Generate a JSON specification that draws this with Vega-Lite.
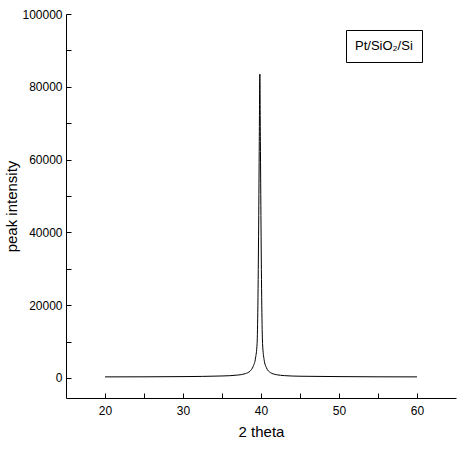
{
  "$schema": "https://vega.github.io/schema/vega-lite/v6.json",
  "width": 390,
  "height": 384,
  "autosize": "none",
  "padding": {"left": 66, "top": 14, "right": 6, "bottom": 60},
  "background": "white",
  "config": {
    "view": {"stroke": null},
    "font": "Liberation Sans",
    "axis": {
      "domainColor": "black",
      "tickColor": "black",
      "labelColor": "black",
      "titleColor": "black",
      "grid": false,
      "labelFont": "Liberation Sans",
      "titleFont": "Liberation Sans",
      "labelFontSize": 12,
      "titleFontSize": 15,
      "titleFontWeight": "normal"
    }
  },
  "data": {
    "values": [
      {"t": 20, "i": 300, "s": "Pt/SiO₂/Si"},
      {"t": 25, "i": 320, "s": "Pt/SiO₂/Si"},
      {"t": 30, "i": 380, "s": "Pt/SiO₂/Si"},
      {"t": 35, "i": 550, "s": "Pt/SiO₂/Si"},
      {"t": 37, "i": 800, "s": "Pt/SiO₂/Si"},
      {"t": 38, "i": 1200, "s": "Pt/SiO₂/Si"},
      {"t": 38.6, "i": 1900, "s": "Pt/SiO₂/Si"},
      {"t": 39.0, "i": 3200, "s": "Pt/SiO₂/Si"},
      {"t": 39.3, "i": 5500, "s": "Pt/SiO₂/Si"},
      {"t": 39.5, "i": 9500, "s": "Pt/SiO₂/Si"},
      {"t": 39.6, "i": 20000, "s": "Pt/SiO₂/Si"},
      {"t": 39.7, "i": 42000, "s": "Pt/SiO₂/Si"},
      {"t": 39.78, "i": 65000, "s": "Pt/SiO₂/Si"},
      {"t": 39.85, "i": 83500, "s": "Pt/SiO₂/Si"},
      {"t": 39.92, "i": 65000, "s": "Pt/SiO₂/Si"},
      {"t": 40.0, "i": 42000, "s": "Pt/SiO₂/Si"},
      {"t": 40.1, "i": 20000, "s": "Pt/SiO₂/Si"},
      {"t": 40.2, "i": 9500, "s": "Pt/SiO₂/Si"},
      {"t": 40.4, "i": 5000, "s": "Pt/SiO₂/Si"},
      {"t": 40.7, "i": 2800, "s": "Pt/SiO₂/Si"},
      {"t": 41.2, "i": 1500, "s": "Pt/SiO₂/Si"},
      {"t": 42, "i": 900, "s": "Pt/SiO₂/Si"},
      {"t": 43, "i": 650, "s": "Pt/SiO₂/Si"},
      {"t": 45, "i": 480, "s": "Pt/SiO₂/Si"},
      {"t": 50, "i": 380, "s": "Pt/SiO₂/Si"},
      {"t": 55, "i": 320, "s": "Pt/SiO₂/Si"},
      {"t": 60, "i": 300, "s": "Pt/SiO₂/Si"}
    ]
  },
  "mark": {"type": "line", "strokeWidth": 1, "interpolate": "monotone"},
  "encoding": {
    "x": {
      "field": "t",
      "type": "quantitative",
      "scale": {"domain": [15, 65], "nice": false},
      "axis": {
        "title": "2 theta",
        "values": [20, 25, 30, 35, 40, 45, 50, 55, 60],
        "labelExpr": "datum.value % 10 === 0 ? datum.label : ''",
        "tickSize": -5,
        "labelPadding": 12,
        "titlePadding": 8
      }
    },
    "y": {
      "field": "i",
      "type": "quantitative",
      "scale": {"domain": [-5500, 100000], "nice": false, "zero": false},
      "axis": {
        "title": "peak intensity",
        "values": [0, 10000, 20000, 30000, 40000, 50000, 60000, 70000, 80000, 90000, 100000],
        "labelExpr": "datum.value % 20000 === 0 ? format(datum.value, 'd') : ''",
        "tickSize": -5,
        "labelPadding": 9,
        "titlePadding": 2
      }
    },
    "color": {
      "field": "s",
      "type": "nominal",
      "scale": {"range": ["black"]},
      "legend": {
        "title": null,
        "orient": "none",
        "legendX": 280,
        "legendY": 16,
        "strokeColor": "black",
        "padding": 9,
        "symbolSize": 0,
        "symbolStrokeWidth": 0,
        "symbolOpacity": 0,
        "labelOffset": -13,
        "labelFontSize": 13,
        "labelFont": "Liberation Sans",
        "labelColor": "black"
      }
    }
  }
}
